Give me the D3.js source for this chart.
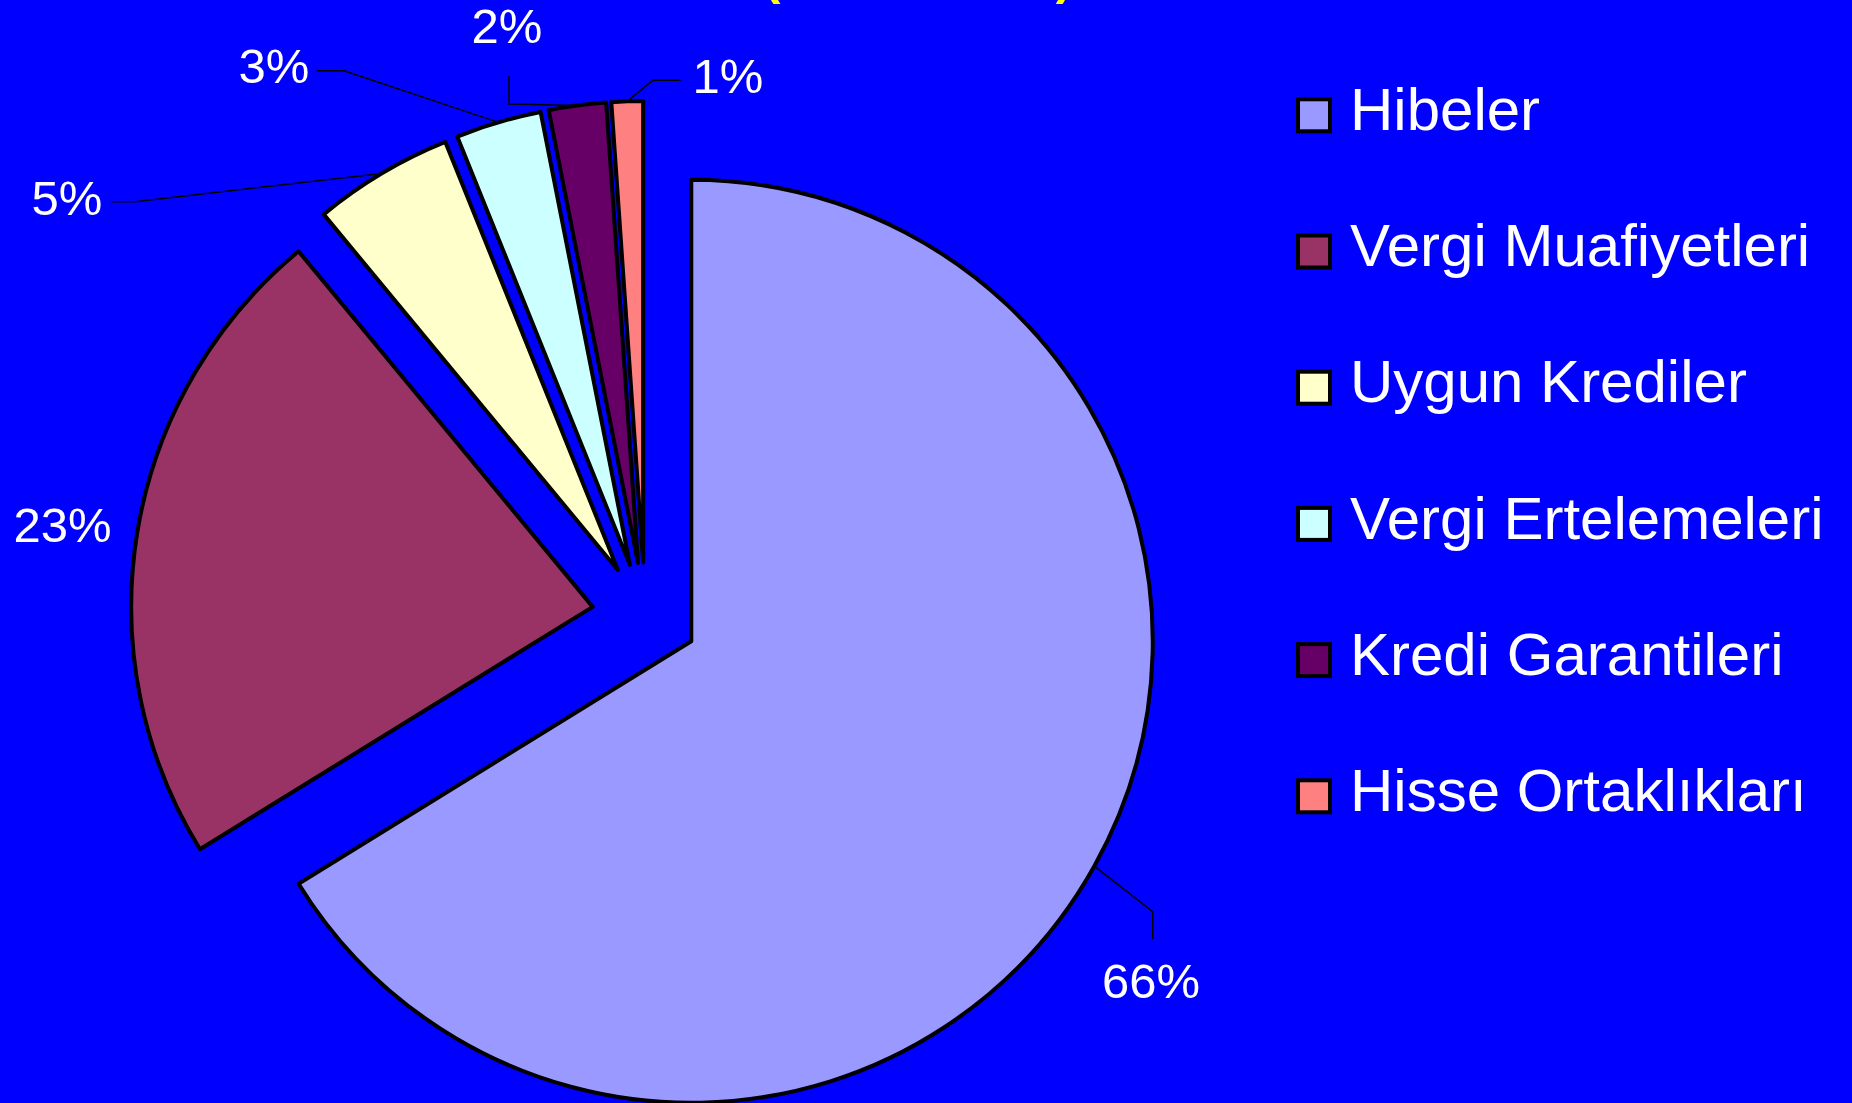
<html>

<head>
  <meta charset="utf8">
  <title>Pie</title>
  <style>
  * {
    margin: 0;
    padding: 0;
  }
  body {
    background: #0000ff;
  }
  </style>
</head>

<body>
  <script src="https://cdn.jsdelivr.net/npm/d3@7"></script>
  <script>
  var w = 1852;
  var h = 1103;

  // data
  var categories = ["Hibeler", "Vergi Muafiyetleri", "Uygun Krediler", "Vergi Ertelemeleri", "Kredi Garantileri", "Hisse Ortaklıkları"];
  var values = [66.2, 22.8, 4.9, 3.0, 2.0, 1.1];
  var pctLabels = ["66%", "23%", "5%", "3%", "2%", "1%"];
  var colors = ["#9999ff", "#993366", "#ffffcc", "#ccffff", "#660066", "#ff8080"];

  // layout of the labels (text centre / baseline and leader elbows)
  var labelPos = [
    { x: 1151, y: 998, leader: [[1152.7, 911.7], [1152.7, 939.3]] },
    { x: 62.5, y: 542, leader: null },
    { x: 67, y: 215, leader: [[135, 201.7], [111.7, 201.7]] },
    { x: 274, y: 83.3, leader: [[344, 70.7], [316.7, 70.7]] },
    { x: 507, y: 43.3, leader: [[509, 104], [509, 76]] },
    { x: 728, y: 92.7, leader: [[652.7, 80.3], [680.7, 80.3]] }
  ];

  var cx = 645;
  var cy = 615.5;
  var r = 461.5;
  var explode = 53;

  var svg = d3.select("body")
    .append("svg")
    .attr("width", w)
    .attr("height", h)
    .style("font-family", "'Liberation Sans', Arial, sans-serif");

  svg.append("rect")
    .attr("width", w)
    .attr("height", h)
    .attr("fill", "#0000ff");

  // cut-off title, only the bracket tips show
  svg.append("text").text("(")
    .attr("x", 772).attr("y", -6)
    .attr("text-anchor", "middle")
    .attr("font-size", "50px").attr("font-weight", "bold")
    .attr("fill", "#ffff00");
  svg.append("text").text(")")
    .attr("x", 1064).attr("y", -6)
    .attr("text-anchor", "middle")
    .attr("font-size", "50px").attr("font-weight", "bold")
    .attr("fill", "#ffff00");

  var pie = d3.pie().sort(null).value(function(d) { return d; });
  var arcs = pie(values);

  var arc = d3.arc().innerRadius(0).outerRadius(r);

  function midDir(d) {
    var a = (d.startAngle + d.endAngle) / 2;
    return [Math.sin(a), -Math.cos(a)];
  }

  var g = svg.append("g").attr("transform", "translate(" + cx + "," + cy + ")");

  g.selectAll("path.slice")
    .data(arcs)
    .enter()
    .append("path")
    .attr("class", "slice")
    .attr("d", arc)
    .attr("transform", function(d) {
      var m = midDir(d);
      return "translate(" + m[0] * explode + "," + m[1] * explode + ")";
    })
    .attr("fill", function(d, i) { return colors[i]; })
    .attr("stroke", "#000")
    .attr("stroke-width", 4)
    .attr("stroke-linejoin", "round");

  // leader lines
  var line = d3.line();
  arcs.forEach(function(d, i) {
    var p = labelPos[i];
    if (!p.leader) return;
    var m = midDir(d);
    var start = [cx + m[0] * (explode + r), cy + m[1] * (explode + r)];
    svg.append("path")
      .attr("d", line([start].concat(p.leader)))
      .attr("fill", "none")
      .attr("stroke", "#000")
      .attr("stroke-width", 1.5);
  });

  // percentage labels
  svg.selectAll("text.pct")
    .data(pctLabels)
    .enter()
    .append("text")
    .attr("class", "pct")
    .text(function(d) { return d; })
    .attr("x", function(d, i) { return labelPos[i].x; })
    .attr("y", function(d, i) { return labelPos[i].y; })
    .attr("text-anchor", "middle")
    .attr("font-size", "49px")
    .attr("fill", "#fff");

  // legend
  var legY = d3.scalePoint()
    .domain(categories)
    .range([130, 811]);

  var leg = svg.selectAll("g.leg")
    .data(categories)
    .enter()
    .append("g")
    .attr("class", "leg")
    .attr("transform", function(d) { return "translate(0," + legY(d) + ")"; });

  leg.append("rect")
    .attr("x", 1298)
    .attr("y", -30.7)
    .attr("width", 32)
    .attr("height", 32)
    .attr("fill", function(d, i) { return colors[i]; })
    .attr("stroke", "#000")
    .attr("stroke-width", 4);

  leg.append("text")
    .text(function(d) { return d; })
    .attr("x", 1350)
    .attr("y", 0)
    .attr("font-size", "60px")
    .attr("fill", "#fff");
  </script>
</body>

</html>
